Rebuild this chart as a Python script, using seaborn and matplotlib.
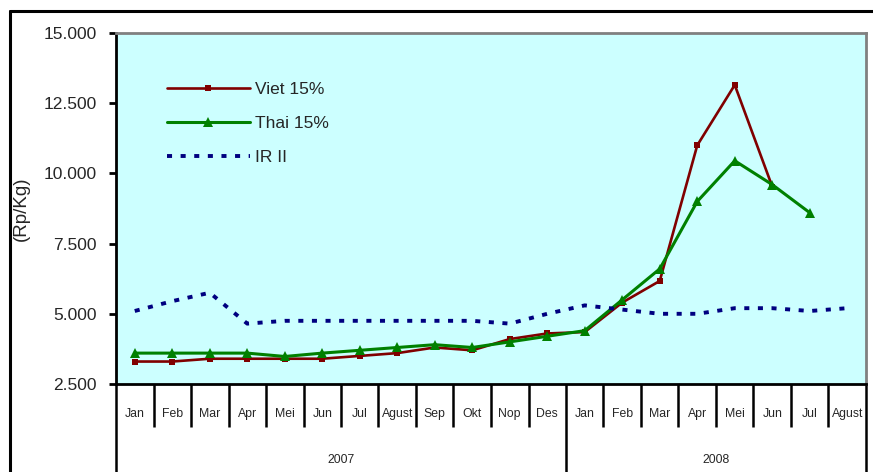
import matplotlib
matplotlib.use("Agg")
import matplotlib.pyplot as plt
import matplotlib.transforms as mtransforms
from matplotlib.lines import Line2D
import numpy as np
import pandas as pd
import seaborn as sns

# ---------------- data ----------------
months = ["Jan", "Feb", "Mar", "Apr", "Mei", "Jun", "Jul", "Agust", "Sep", "Okt", "Nop", "Des",
          "Jan", "Feb", "Mar", "Apr", "Mei", "Jun", "Jul", "Agust"]
years = ["2007", "2008"]
year_of_month = ["2007"] * 12 + ["2008"] * 8

viet = [3300, 3300, 3400, 3400, 3400, 3400, 3500, 3600, 3800, 3700, 4100, 4300,
        4350, 5400, 6170, 11000, 13150, 9530, None, None]
thai = [3600, 3600, 3600, 3600, 3480, 3600, 3700, 3800, 3900, 3800, 4000, 4200,
        4400, 5500, 6600, 9000, 10450, 9600, 8600, None]
ir2 = [5100, 5450, 5750, 4650, 4750, 4750, 4750, 4750, 4750, 4750, 4650, 5000,
       5300, 5150, 5000, 5000, 5200, 5200, 5100, 5200]
series_names = ["Viet 15%", "Thai 15%", "IR II"]

sns.set_theme(style="white")
plt.rcParams["font.family"] = ["Liberation Sans", "DejaVu Sans"]

W, H = 873, 472
fig = plt.figure(figsize=(W / 100, H / 100), dpi=100)

# outer border
fig.add_artist(Line2D([10 / W, 10 / W], [0, 1 - 11 / H], transform=fig.transFigure,
                      color="black", lw=2.2))
fig.add_artist(Line2D([10 / W, 1], [1 - 11 / H, 1 - 11 / H], transform=fig.transFigure,
                      color="black", lw=2.2))

L, R, T, B = 116, 866, 33, 384
ax = fig.add_axes([L / W, 1 - B / H, (R - L) / W, (B - T) / H])
ax.set_facecolor("#CCFFFF")

x = np.arange(len(months))
df = pd.DataFrame({
    "x": np.concatenate([x, x, x]),
    "value": pd.to_numeric(pd.Series(viet + thai + ir2), errors="coerce"),
    "series": np.repeat(series_names, len(months)),
})

palette = {"Viet 15%": "#800000", "Thai 15%": "#008000", "IR II": "#000080"}

sns.lineplot(data=df[df.series == "Viet 15%"], x="x", y="value", ax=ax, color=palette["Viet 15%"],
             lw=1.9, marker="s", markersize=5, markeredgewidth=0, legend=False)
sns.lineplot(data=df[df.series == "Thai 15%"], x="x", y="value", ax=ax, color=palette["Thai 15%"],
             lw=2.2, marker="^", markersize=7, markeredgewidth=0, legend=False)
sns.lineplot(data=df[df.series == "IR II"], x="x", y="value", ax=ax, color=palette["IR II"],
             lw=2.8, legend=False)
ir_line = ax.get_lines()[-1]
ir_line.set_dashes((1.3, 2.2))
ir_line.set_dash_capstyle("butt")

ax.set_xlim(-0.5, len(months) - 0.5)
ax.set_ylim(2500, 15000)
yt = np.arange(2500, 15001, 2500)
ax.set_yticks(yt)
ax.set_yticklabels([f"{v:,.0f}".replace(",", ".") for v in yt], fontsize=12.5)
ax.tick_params(axis="y", direction="out", length=5, width=2, color="black", pad=9, left=True)
ax.set_xticks([])
ax.set_xlabel("")
ax.set_ylabel("(Rp/Kg)", fontsize=13.5)
ax.yaxis.set_label_coords((30 - L) / (R - L), 0.5)

for side in ["left", "bottom"]:
    ax.spines[side].set_color("black")
    ax.spines[side].set_linewidth(2)
for side in ["top", "right"]:
    ax.spines[side].set_color("#808080")
    ax.spines[side].set_linewidth(2)

# two-level category axis
trans = mtransforms.blended_transform_factory(ax.transData, ax.transAxes)
ph = B - T
short_y = -(427 - B) / ph
bottom_y = -(B + 20) / ph
for i in range(len(months) + 1):
    b = i - 0.5
    is_year_edge = (i == 0) or (i == len(months)) or (i < len(months) and year_of_month[i] != year_of_month[i - 1])
    ax.plot([b, b], [0, bottom_y if is_year_edge else short_y], transform=trans,
            color="black", lw=1.8, clip_on=False, solid_capstyle="butt")
for i, m in enumerate(months):
    ax.text(i, -(414 - B) / ph, m, transform=trans, ha="center", va="center", fontsize=8.8)
for yv in years:
    idx = [i for i, yy in enumerate(year_of_month) if yy == yv]
    ax.text((idx[0] + idx[-1]) / 2, -(460 - B) / ph, yv, transform=trans, ha="center",
            va="center", fontsize=8.8)

# legend
handles = [
    Line2D([], [], color=palette["Viet 15%"], lw=1.9, marker="s", markersize=5, markeredgewidth=0),
    Line2D([], [], color=palette["Thai 15%"], lw=2.2, marker="^", markersize=7, markeredgewidth=0),
    Line2D([], [], color=palette["IR II"], lw=2.8, dashes=(1.3, 2.2), dash_capstyle="butt"),
]
leg = ax.legend(handles, series_names, loc="upper left",
                bbox_to_anchor=((151 - L) / (R - L), 1 - (66 - T) / ph),
                frameon=False, handlelength=4.8, handletextpad=0.3, labelspacing=1.1,
                prop={"size": 12.5})

fig.savefig("out.png", dpi=100)
